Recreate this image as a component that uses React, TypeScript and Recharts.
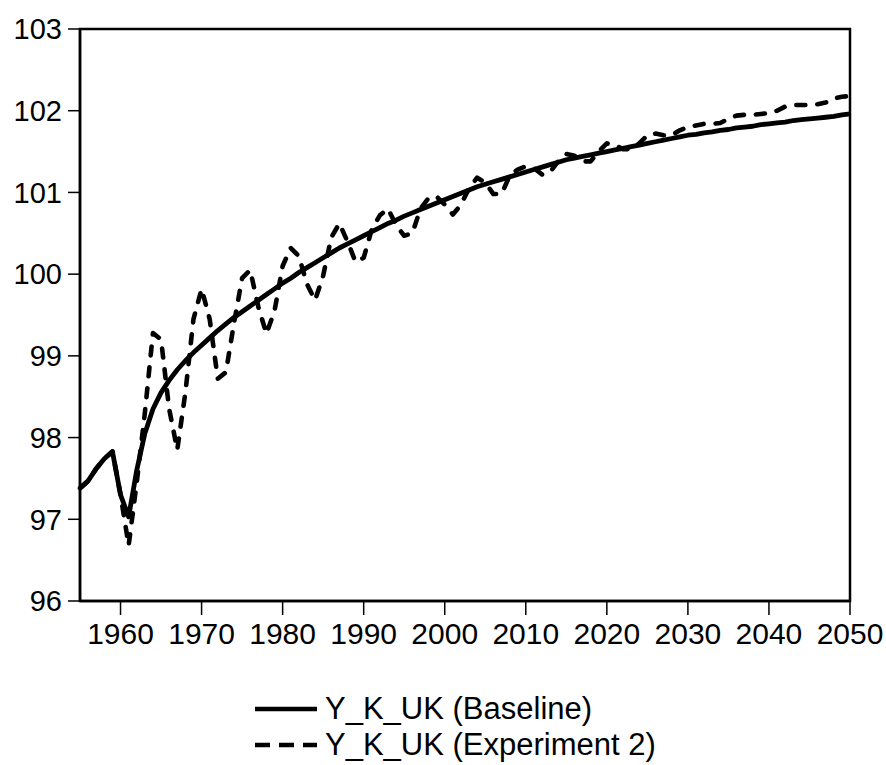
import { LineChart, Line, XAxis, YAxis, ReferenceArea, Legend } from "recharts";

const years = [
  1955, 1956, 1957, 1958, 1959, 1960, 1961, 1962, 1963, 1964,
  1965, 1966, 1967, 1968, 1969, 1970, 1971, 1972, 1973, 1974,
  1975, 1976, 1977, 1978, 1979, 1980, 1981, 1982, 1983, 1984,
  1985, 1986, 1987, 1988, 1989, 1990, 1991, 1992, 1993, 1994,
  1995, 1996, 1997, 1998, 1999, 2000, 2001, 2002, 2003, 2004,
  2005, 2006, 2007, 2008, 2009, 2010, 2011, 2012, 2013, 2014,
  2015, 2016, 2017, 2018, 2019, 2020, 2021, 2022, 2023, 2024,
  2025, 2026, 2027, 2028, 2029, 2030, 2031, 2032, 2033, 2034,
  2035, 2036, 2037, 2038, 2039, 2040, 2041, 2042, 2043, 2044,
  2045, 2046, 2047, 2048, 2049, 2050,
];

// Y_K_UK (Baseline)
const baseline = [
  97.38, 97.47, 97.62, 97.74, 97.83, 97.3, 97.03, 97.6, 98.05, 98.35,
  98.55, 98.7, 98.83, 98.94, 99.04, 99.13, 99.22, 99.31, 99.39, 99.47,
  99.54, 99.61, 99.68, 99.75, 99.82, 99.89, 99.95, 100.02, 100.08, 100.14,
  100.2, 100.26, 100.32, 100.37, 100.42, 100.47, 100.52, 100.57, 100.62, 100.66,
  100.71, 100.75, 100.79, 100.83, 100.87, 100.91, 100.95, 100.99, 101.03, 101.07,
  101.1, 101.13, 101.16, 101.19, 101.22, 101.25, 101.28, 101.31, 101.34, 101.37,
  101.4, 101.42, 101.44, 101.46, 101.48, 101.5, 101.52, 101.54, 101.56, 101.58,
  101.6, 101.62, 101.64, 101.66, 101.68, 101.7, 101.71, 101.73, 101.74, 101.76,
  101.77, 101.79, 101.8, 101.81, 101.83, 101.84, 101.85, 101.86, 101.88, 101.89,
  101.9, 101.91, 101.92, 101.93, 101.95, 101.96,
];

// Y_K_UK (Experiment 2)
const experiment2 = [
  97.38, 97.47, 97.62, 97.74, 97.83, 97.3, 96.68, 97.45, 98.3, 99.28,
  99.2, 98.35, 97.85, 98.55, 99.45, 99.82, 99.45, 98.72, 98.8, 99.4,
  99.95, 100.05, 99.6, 99.27, 99.55, 100.1, 100.32, 100.22, 99.88, 99.68,
  99.98, 100.45, 100.62, 100.4, 100.15, 100.2, 100.55, 100.72, 100.8, 100.6,
  100.47, 100.5, 100.8, 100.93, 100.95, 100.85, 100.73, 100.85, 101.05, 101.18,
  101.12, 100.98, 100.98, 101.2, 101.28, 101.32, 101.3, 101.22, 101.25, 101.38,
  101.47, 101.45, 101.38, 101.38, 101.5, 101.6, 101.58, 101.53, 101.53, 101.6,
  101.7, 101.72, 101.7, 101.7, 101.76, 101.8, 101.82, 101.84, 101.84, 101.85,
  101.9, 101.94, 101.95, 101.95, 101.96, 101.97, 102.0, 102.05, 102.07, 102.07,
  102.07, 102.08, 102.1, 102.15, 102.17, 102.18,
];

const xTicks = [1960, 1970, 1980, 1990, 2000, 2010, 2020, 2030, 2040, 2050];
const yTicks = [96, 97, 98, 99, 100, 101, 102, 103];

const seriesNames = ["Y_K_UK (Baseline)", "Y_K_UK (Experiment 2)"];

const data = years.map((year, i) => ({
  year,
  baseline: baseline[i],
  experiment2: experiment2[i],
}));

const FONT = '"Liberation Sans", Arial, Helvetica, sans-serif';

function LegendBox() {
  return (
    <div style={{ fontFamily: FONT, fontSize: 31, color: "#000", lineHeight: "36px" }}>
      {seriesNames.map((name, i) => (
        <div key={name} style={{ display: "flex", alignItems: "center", whiteSpace: "nowrap", height: 36 }}>
          <svg width={72} height={20}>
            <line
              x1={2}
              y1={10}
              x2={64}
              y2={10}
              stroke="#000"
              strokeWidth={4.5}
              strokeDasharray={i === 1 ? "15 9" : undefined}
            />
          </svg>
          <span>{name}</span>
        </div>
      ))}
    </div>
  );
}

export default function App() {
  return (
    <div style={{ position: "absolute", left: 0, top: 0, background: "#fff" }}>
      <LineChart
        width={886}
        height={765}
        data={data}
        margin={{ top: 29, right: 36, bottom: 104, left: 0 }}
      >
        <XAxis
          dataKey="year"
          type="number"
          domain={[1955, 2050]}
          ticks={xTicks}
          interval={0}
          height={60}
          tickSize={14}
          tickMargin={8}
          axisLine={{ stroke: "#000", strokeWidth: 2.5 }}
          tickLine={{ stroke: "#000", strokeWidth: 1.5 }}
          tick={{ fill: "#000", fontSize: 30, fontFamily: FONT }}
        />
        <YAxis
          type="number"
          domain={[96, 103]}
          ticks={yTicks}
          interval={0}
          width={80}
          tickSize={12}
          tickMargin={6}
          axisLine={{ stroke: "#000", strokeWidth: 2.5 }}
          tickLine={{ stroke: "#000", strokeWidth: 1.5 }}
          tick={{ fill: "#000", fontSize: 29, fontFamily: FONT }}
        />
        <ReferenceArea
          x1={1955}
          x2={2050}
          y1={96}
          y2={103}
          fill="none"
          stroke="#000"
          strokeWidth={2.5}
          ifOverflow="visible"
        />
        <Line
          dataKey="baseline"
          name={seriesNames[0]}
          type="linear"
          stroke="#000"
          strokeWidth={4.8}
          strokeLinejoin="round"
          dot={false}
          isAnimationActive={false}
        />
        <Line
          dataKey="experiment2"
          name={seriesNames[1]}
          type="linear"
          stroke="#000"
          strokeWidth={4.6}
          strokeDasharray="9 12"
          strokeLinecap="round"
          strokeLinejoin="round"
          dot={false}
          isAnimationActive={false}
        />
        <Legend
          layout="vertical"
          verticalAlign="middle"
          align="center"
          content={() => <LegendBox />}
          wrapperStyle={{ top: 691, left: 253, width: "auto", height: "auto" }}
        />
      </LineChart>
    </div>
  );
}
